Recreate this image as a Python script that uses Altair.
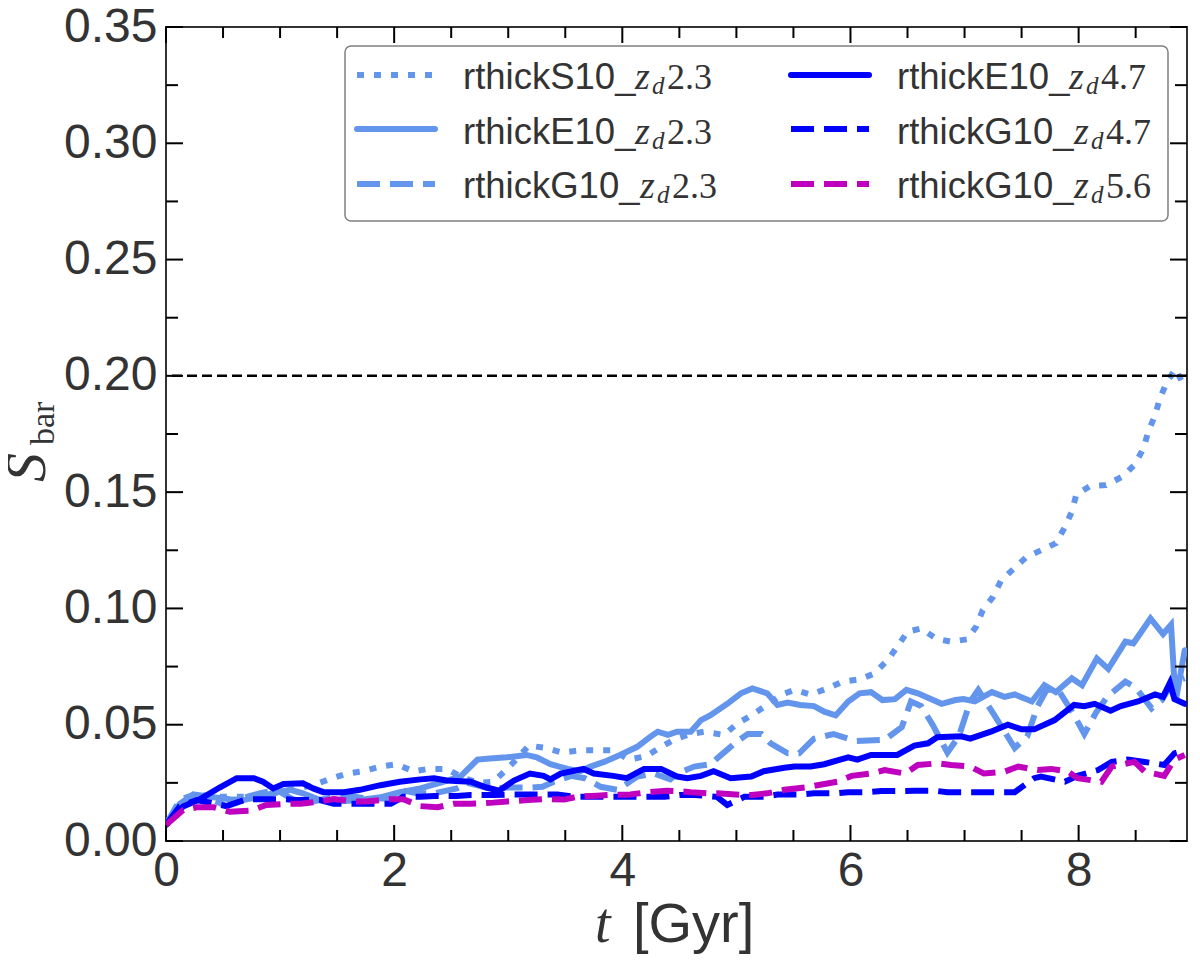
import pandas as pd
import altair as alt

W, H = 1021, 814
X_MAX = 8.95
Y_MAX = 0.35

# (t [Gyr], S_bar)
s10_23 = [(0.00, 0.0070), (0.15, 0.0176), (0.27, 0.0200), (0.45, 0.0190), (0.68, 0.0190),
          (0.88, 0.0200), (1.00, 0.0210), (1.15, 0.0226), (1.29, 0.0240), (1.44, 0.0267),
          (1.59, 0.0290), (1.73, 0.0300), (1.88, 0.0320), (2.02, 0.0330), (2.17, 0.0300),
          (2.30, 0.0310), (2.46, 0.0310), (2.61, 0.0270), (2.75, 0.0250), (2.87, 0.0255),
          (2.98, 0.0305), (3.08, 0.0355), (3.18, 0.0410), (3.33, 0.0400), (3.47, 0.0380),
          (3.63, 0.0390), (3.78, 0.0390), (3.92, 0.0390), (4.06, 0.0350), (4.21, 0.0365),
          (4.34, 0.0405), (4.47, 0.0440), (4.60, 0.0460), (4.72, 0.0470), (4.89, 0.0456),
          (5.01, 0.0506), (5.13, 0.0540), (5.27, 0.0585), (5.39, 0.0628), (5.51, 0.0650),
          (5.65, 0.0630), (5.80, 0.0656), (5.93, 0.0685), (6.08, 0.0695), (6.21, 0.0720),
          (6.33, 0.0780), (6.41, 0.0835), (6.50, 0.0900), (6.62, 0.0914), (6.75, 0.0870),
          (6.88, 0.0857), (7.02, 0.0867), (7.10, 0.0920), (7.16, 0.0993), (7.25, 0.1050),
          (7.32, 0.1120), (7.43, 0.1170), (7.54, 0.1220), (7.67, 0.1250), (7.80, 0.1280),
          (7.88, 0.1350), (7.94, 0.1416), (7.98, 0.1490), (8.10, 0.1526), (8.24, 0.1530),
          (8.38, 0.1566), (8.49, 0.1617), (8.57, 0.1690), (8.61, 0.1760), (8.67, 0.1830),
          (8.71, 0.1900), (8.77, 0.1970), (8.85, 0.2030), (8.93, 0.1950)]

e10_23 = [(0.00, 0.0070), (0.12, 0.0160), (0.24, 0.0200), (0.38, 0.0190), (0.56, 0.0180),
          (0.68, 0.0176), (0.82, 0.0190), (0.97, 0.0210), (1.09, 0.0220), (1.20, 0.0205),
          (1.35, 0.0176), (1.50, 0.0170), (1.70, 0.0176), (1.88, 0.0188), (2.05, 0.0210),
          (2.23, 0.0226), (2.40, 0.0250), (2.58, 0.0277), (2.73, 0.0350), (2.84, 0.0355),
          (2.99, 0.0360), (3.16, 0.0370), (3.25, 0.0360), (3.37, 0.0330), (3.52, 0.0310),
          (3.63, 0.0300), (3.72, 0.0320), (3.84, 0.0340), (3.98, 0.0370), (4.13, 0.0405),
          (4.25, 0.0450), (4.31, 0.0470), (4.40, 0.0456), (4.48, 0.0470), (4.60, 0.0470),
          (4.69, 0.0520), (4.77, 0.0540), (4.92, 0.0590), (5.04, 0.0635), (5.14, 0.0656),
          (5.27, 0.0635), (5.36, 0.0585), (5.45, 0.0595), (5.56, 0.0585), (5.68, 0.0580),
          (5.77, 0.0556), (5.87, 0.0540), (5.98, 0.0600), (6.08, 0.0635), (6.18, 0.0640),
          (6.28, 0.0606), (6.39, 0.0610), (6.49, 0.0650), (6.59, 0.0635), (6.80, 0.0590),
          (6.92, 0.0606), (6.99, 0.0610), (7.09, 0.0600), (7.24, 0.0640), (7.35, 0.0620),
          (7.44, 0.0630), (7.59, 0.0600), (7.70, 0.0670), (7.80, 0.0640), (7.94, 0.0700),
          (8.03, 0.0670), (8.16, 0.0785), (8.26, 0.0740), (8.41, 0.0857), (8.48, 0.0850),
          (8.63, 0.0957), (8.74, 0.0890), (8.81, 0.0930), (8.85, 0.0600), (8.93, 0.0820)]

g10_23 = [(0.00, 0.0070), (0.12, 0.0176), (0.24, 0.0198), (0.42, 0.0176), (0.53, 0.0150),
          (0.71, 0.0190), (0.82, 0.0205), (0.97, 0.0220), (1.12, 0.0176), (1.29, 0.0170),
          (1.47, 0.0190), (1.65, 0.0190), (1.76, 0.0183), (1.94, 0.0183), (2.05, 0.0220),
          (2.20, 0.0205), (2.35, 0.0205), (2.55, 0.0226), (2.64, 0.0250), (2.84, 0.0226),
          (3.00, 0.0230), (3.20, 0.0230), (3.30, 0.0233), (3.40, 0.0255), (3.55, 0.0280),
          (3.67, 0.0270), (3.81, 0.0233), (3.96, 0.0220), (4.13, 0.0277), (4.28, 0.0290),
          (4.42, 0.0265), (4.48, 0.0290), (4.63, 0.0320), (4.77, 0.0330), (4.89, 0.0380),
          (5.01, 0.0430), (5.10, 0.0460), (5.22, 0.0460), (5.30, 0.0420), (5.45, 0.0377),
          (5.55, 0.0377), (5.68, 0.0440), (5.85, 0.0460), (6.04, 0.0430), (6.30, 0.0435),
          (6.45, 0.0490), (6.53, 0.0600), (6.62, 0.0580), (6.72, 0.0500), (6.85, 0.0380),
          (6.95, 0.0450), (7.05, 0.0600), (7.12, 0.0650), (7.25, 0.0550), (7.44, 0.0400),
          (7.55, 0.0450), (7.64, 0.0580), (7.72, 0.0650), (7.82, 0.0650), (7.95, 0.0550),
          (8.05, 0.0460), (8.15, 0.0550), (8.25, 0.0620), (8.41, 0.0685), (8.50, 0.0660),
          (8.64, 0.0570), (8.73, 0.0606), (8.82, 0.0680), (8.93, 0.0700)]

e10_47 = [(0.00, 0.0069), (0.15, 0.0148), (0.30, 0.0180), (0.47, 0.0230), (0.62, 0.0270),
          (0.77, 0.0270), (0.85, 0.0255), (0.94, 0.0226), (1.03, 0.0245), (1.20, 0.0248),
          (1.29, 0.0226), (1.38, 0.0210), (1.56, 0.0210), (1.70, 0.0220), (1.88, 0.0240),
          (2.05, 0.0255), (2.23, 0.0265), (2.35, 0.0270), (2.46, 0.0260), (2.67, 0.0255),
          (2.81, 0.0230), (2.92, 0.0216), (3.05, 0.0260), (3.19, 0.0290), (3.31, 0.0280),
          (3.37, 0.0265), (3.46, 0.0290), (3.66, 0.0310), (3.75, 0.0290), (3.92, 0.0280),
          (4.04, 0.0270), (4.19, 0.0310), (4.34, 0.0310), (4.48, 0.0277), (4.57, 0.0270),
          (4.69, 0.0280), (4.80, 0.0300), (4.95, 0.0270), (5.13, 0.0277), (5.24, 0.0300),
          (5.42, 0.0315), (5.51, 0.0320), (5.65, 0.0320), (5.77, 0.0330), (5.98, 0.0360),
          (6.06, 0.0350), (6.18, 0.0370), (6.41, 0.0370), (6.56, 0.0410), (6.68, 0.0420),
          (6.76, 0.0446), (6.97, 0.0450), (7.05, 0.0440), (7.23, 0.0470), (7.38, 0.0500),
          (7.50, 0.0480), (7.61, 0.0480), (7.79, 0.0520), (7.96, 0.0585), (8.05, 0.0580),
          (8.14, 0.0590), (8.28, 0.0560), (8.37, 0.0580), (8.52, 0.0600), (8.67, 0.0630),
          (8.74, 0.0620), (8.80, 0.0680), (8.84, 0.0610), (8.93, 0.0590)]

g10_47 = [(0.00, 0.0070), (0.12, 0.0148), (0.27, 0.0176), (0.53, 0.0150), (0.71, 0.0180),
          (0.83, 0.0180), (1.03, 0.0180), (1.15, 0.0176), (1.35, 0.0176), (1.47, 0.0160),
          (1.65, 0.0160), (1.76, 0.0160), (1.97, 0.0160), (2.08, 0.0190), (2.23, 0.0190),
          (2.35, 0.0193), (2.55, 0.0193), (2.67, 0.0198), (2.87, 0.0198), (3.02, 0.0200),
          (3.17, 0.0200), (3.28, 0.0200), (3.43, 0.0200), (3.58, 0.0190), (3.75, 0.0190),
          (3.90, 0.0190), (4.07, 0.0190), (4.19, 0.0190), (4.37, 0.0190), (4.51, 0.0198),
          (4.63, 0.0198), (4.83, 0.0190), (4.92, 0.0155), (5.07, 0.0190), (5.24, 0.0190),
          (5.36, 0.0200), (5.57, 0.0200), (5.68, 0.0205), (5.86, 0.0205), (5.98, 0.0210),
          (6.15, 0.0210), (6.27, 0.0215), (6.45, 0.0215), (6.56, 0.0216), (6.74, 0.0216),
          (6.85, 0.0210), (7.03, 0.0210), (7.15, 0.0210), (7.32, 0.0210), (7.44, 0.0210),
          (7.61, 0.0270), (7.67, 0.0277), (7.88, 0.0255), (7.99, 0.0280), (8.17, 0.0305),
          (8.29, 0.0340), (8.43, 0.0350), (8.58, 0.0340), (8.75, 0.0327), (8.84, 0.0377),
          (8.93, 0.0390)]

g10_56 = [(0.00, 0.0069), (0.15, 0.0133), (0.27, 0.0145), (0.42, 0.0145), (0.56, 0.0126),
          (0.74, 0.0130), (0.88, 0.0155), (1.06, 0.0160), (1.18, 0.0160), (1.35, 0.0170),
          (1.47, 0.0180), (1.65, 0.0170), (1.76, 0.0170), (1.97, 0.0180), (2.08, 0.0180),
          (2.23, 0.0150), (2.38, 0.0145), (2.52, 0.0160), (2.67, 0.0160), (2.87, 0.0165),
          (2.99, 0.0170), (3.17, 0.0176), (3.30, 0.0180), (3.49, 0.0178), (3.60, 0.0190),
          (3.78, 0.0195), (3.90, 0.0198), (4.07, 0.0200), (4.22, 0.0210), (4.39, 0.0216),
          (4.50, 0.0215), (4.60, 0.0210), (4.75, 0.0205), (4.83, 0.0205), (5.04, 0.0198),
          (5.13, 0.0198), (5.27, 0.0205), (5.42, 0.0220), (5.60, 0.0230), (5.71, 0.0240),
          (5.89, 0.0255), (6.01, 0.0280), (6.18, 0.0290), (6.30, 0.0305), (6.48, 0.0290),
          (6.59, 0.0327), (6.77, 0.0334), (6.88, 0.0327), (7.05, 0.0320), (7.17, 0.0290),
          (7.35, 0.0298), (7.47, 0.0320), (7.64, 0.0305), (7.76, 0.0310), (7.91, 0.0298),
          (7.99, 0.0270), (8.20, 0.0255), (8.29, 0.0320), (8.49, 0.0340), (8.58, 0.0298),
          (8.75, 0.0280), (8.84, 0.0350), (8.93, 0.0370)]

threshold = [0.2]

x_major = [0, 2, 4, 6, 8]
x_minor = [0.5, 1, 1.5, 2.5, 3, 3.5, 4.5, 5, 5.5, 6.5, 7, 7.5, 8.5]
y_major = [0.0, 0.05, 0.10, 0.15, 0.20, 0.25, 0.30, 0.35]
y_minor = [0.025, 0.075, 0.125, 0.175, 0.225, 0.275, 0.325]

LIGHT = "#6495ED"
BLUE = "#0000FF"
MAG = "#BF00BF"
TXT = "#333333"
DOT = [7, 10]
DASH = [23, 10]
LW = 6

# name, zd value, points, colour, dash, legend column, legend row
series = [
    ("rthickS10_", "2.3", s10_23, LIGHT, DOT, 0, 0),
    ("rthickE10_", "2.3", e10_23, LIGHT, None, 0, 1),
    ("rthickG10_", "2.3", g10_23, LIGHT, DASH, 0, 2),
    ("rthickE10_", "4.7", e10_47, BLUE, None, 1, 0),
    ("rthickG10_", "4.7", g10_47, BLUE, DASH, 1, 1),
    ("rthickG10_", "5.6", g10_56, MAG, DASH, 1, 2),
]

xs = alt.Scale(domain=[0, X_MAX], nice=False, zero=False)
ys = alt.Scale(domain=[0, Y_MAX], nice=False)
x_axis = alt.Axis(values=x_major, format="d", title=None, grid=False, domain=False,
                  ticks=False, tickSize=0, labelFlush=False, labelFont="Liberation Sans",
                  labelFontSize=48, labelColor=TXT, labelPadding=6)
y_axis = alt.Axis(values=y_major, format=".2f", title=None, grid=False, domain=False,
                  ticks=False, tickSize=0, labelFlush=False, labelFont="Liberation Sans",
                  labelFontSize=48, labelColor=TXT, labelPadding=9)
X = alt.X("t:Q", scale=xs, axis=x_axis)
Y = alt.Y("S:Q", scale=ys, axis=y_axis)

one = pd.DataFrame({"k": [0]})
layers = []


def line_style(col, dash):
    kw = dict(color=col, strokeWidth=LW)
    if dash:
        kw["strokeDash"] = dash
        kw["strokeCap"] = "butt"
    else:
        kw["strokeCap"] = "round"
    return kw


for name, zd, pts, col, dash, _, _ in series:
    df = pd.DataFrame(pts, columns=["t", "S"])
    layers.append(alt.Chart(df).mark_line(clip=True, **line_style(col, dash)).encode(x=X, y=Y))

layers.append(
    alt.Chart(pd.DataFrame({"S": threshold}))
    .mark_rule(color="black", strokeWidth=2.5, strokeDash=[10, 5])
    .encode(y=Y)
)

# inward ticks on all four sides
tick = dict(color="black", strokeWidth=2)
for vals, ln in [(x_major, 16), (x_minor, 11)]:
    d = pd.DataFrame({"t": vals})
    layers.append(alt.Chart(d).mark_rule(**tick).encode(x=X, y=alt.value(H), y2=alt.value(H - ln)))
    layers.append(alt.Chart(d).mark_rule(**tick).encode(x=X, y=alt.value(0), y2=alt.value(ln)))
for vals, ln in [(y_major, 17), (y_minor, 12)]:
    d = pd.DataFrame({"S": vals})
    layers.append(alt.Chart(d).mark_rule(**tick).encode(y=Y, x=alt.value(0), x2=alt.value(ln)))
    layers.append(alt.Chart(d).mark_rule(**tick).encode(y=Y, x=alt.value(W), x2=alt.value(W - ln)))

# legend box
layers.append(
    alt.Chart(one).mark_rect(fill="white", stroke="#808080", strokeWidth=1.5, cornerRadius=6)
    .encode(x=alt.value(179), x2=alt.value(1002), y=alt.value(19), y2=alt.value(194))
)

col_x = [(191, 269, 297), (625, 703, 731)]
row_line = [48, 102, 157]
row_base = [62, 116.5, 171]
for name, zd, pts, col, dash, c, r in series:
    x0, x1, tx = col_x[c]
    layers.append(alt.Chart(one).mark_rule(**line_style(col, dash)).encode(
        x=alt.value(x0), x2=alt.value(x1), y=alt.value(row_line[r])))
    zx = tx + (177 if "G" in name else 172)
    yb = row_base[r]
    layers.append(alt.Chart(one).mark_text(
        text=name, align="left", baseline="alphabetic", font="Liberation Sans",
        fontSize=36.5, color=TXT).encode(x=alt.value(tx), y=alt.value(yb)))
    layers.append(alt.Chart(one).mark_text(
        text="z", align="left", baseline="alphabetic", font="Liberation Serif",
        fontStyle="italic", fontSize=38, color=TXT).encode(x=alt.value(zx), y=alt.value(yb)))
    layers.append(alt.Chart(one).mark_text(
        text="d", align="left", baseline="alphabetic", font="Liberation Serif",
        fontStyle="italic", fontSize=25, color=TXT).encode(x=alt.value(zx + 17), y=alt.value(yb + 5)))
    layers.append(alt.Chart(one).mark_text(
        text=zd, align="left", baseline="alphabetic", font="Liberation Serif",
        fontSize=36, color=TXT).encode(x=alt.value(zx + 32), y=alt.value(yb)))

# axis titles
layers.append(alt.Chart(one).mark_text(
    text="t", align="left", baseline="alphabetic", font="Liberation Serif",
    fontStyle="italic", fontSize=56, color=TXT).encode(x=alt.value(429), y=alt.value(915)))
layers.append(alt.Chart(one).mark_text(
    text="[Gyr]", align="left", baseline="alphabetic", font="Liberation Sans",
    fontSize=56, color=TXT).encode(x=alt.value(467), y=alt.value(915)))
layers.append(alt.Chart(one).mark_text(
    text="S", angle=270, align="left", baseline="alphabetic", font="Liberation Serif",
    fontStyle="italic", fontSize=58, color=TXT).encode(x=alt.value(-121), y=alt.value(455)))
layers.append(alt.Chart(one).mark_text(
    text="bar", angle=270, align="left", baseline="alphabetic", font="Liberation Serif",
    fontSize=34, color=TXT).encode(x=alt.value(-112), y=alt.value(418)))

chart = alt.layer(*layers).properties(
    width=W,
    height=H,
    autosize=alt.AutoSizeParams(type="none"),
    padding={"left": 158, "top": 19, "right": 5, "bottom": 115},
).configure_view(
    stroke="#333333",
    strokeWidth=2
)

chart.save("out.html", embed_options={"renderer": "svg", "actions": False})
